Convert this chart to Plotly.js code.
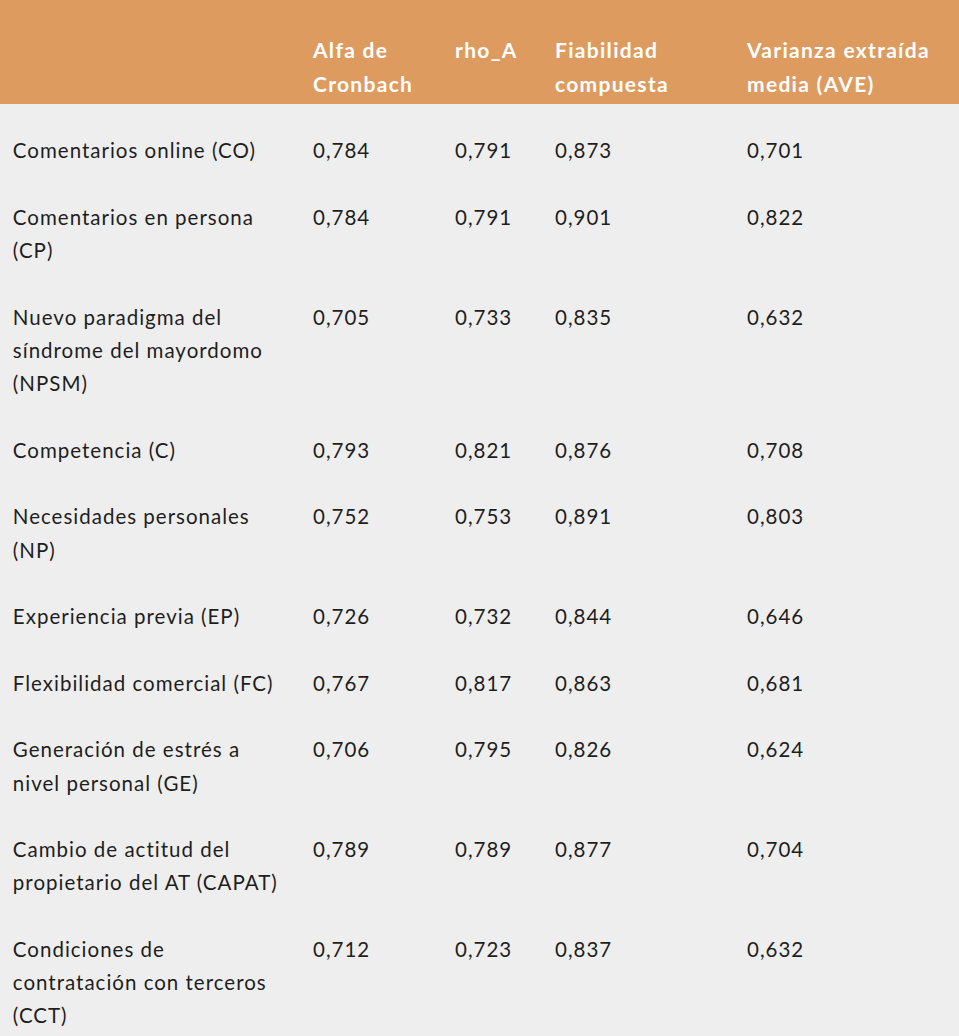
<!DOCTYPE html>
<html>
<head>
<meta charset="utf-8">
<script src="https://cdn.plot.ly/plotly-3.0.1.min.js"></script>
<style>html,body{margin:0;padding:0;background:#eeeeee;}#chart{width:959px;height:1036px;}</style>
</head>
<body>
<div id="chart"></div>
<script>
// ---- data ----
const headers = ["", "Alfa de|Cronbach", "rho_A", "Fiabilidad|compuesta", "Varianza extraída|media (AVE)"];
const categories = [
  "Comentarios online (CO)",
  "Comentarios en persona|(CP)",
  "Nuevo paradigma del|síndrome del mayordomo|(NPSM)",
  "Competencia (C)",
  "Necesidades personales|(NP)",
  "Experiencia previa (EP)",
  "Flexibilidad comercial (FC)",
  "Generación de estrés a|nivel personal (GE)",
  "Cambio de actitud del|propietario del AT (CAPAT)",
  "Condiciones de|contratación con terceros|(CCT)"
];
const alfaCronbach = [0.784, 0.784, 0.705, 0.793, 0.752, 0.726, 0.767, 0.706, 0.789, 0.712];
const rhoA = [0.791, 0.791, 0.733, 0.821, 0.753, 0.732, 0.817, 0.795, 0.789, 0.723];
const fiabilidadCompuesta = [0.873, 0.901, 0.835, 0.876, 0.891, 0.844, 0.863, 0.826, 0.877, 0.837];
const ave = [0.701, 0.822, 0.632, 0.708, 0.803, 0.646, 0.681, 0.624, 0.704, 0.632];

// ---- formatting helpers ----
const BODY_STYLE = 'font-size:20.5px;letter-spacing:1px';
const HEAD_STYLE = 'font-size:21px;letter-spacing:1.3px';
const BODY_LEAD_PX = 13;
const HEAD_LEAD_PX = 16;
function span(t, style) { return '<span style="' + style + '">' + t + '</span>'; }
function lead(px) { return span('\u00a0', 'font-size:' + px + 'px'); }
function cellText(label, leadPx, style, indent) {
  const lines = label.split('|');
  const pre = indent ? span('\u00a0', 'font-size:15px;letter-spacing:1px') : '';
  return lead(leadPx) + '<br>' + lines.map(l => pre + span(l, style)).join('<br>');
}
function fmt(v) { return v.toFixed(3).replace('.', ','); }

const headerVals = headers.map(h => [h ? cellText(h, HEAD_LEAD_PX, HEAD_STYLE, false) : '']);
const cellVals = [
  categories.map(c => cellText(c, BODY_LEAD_PX, BODY_STYLE, true)),
  alfaCronbach.map(v => cellText(fmt(v), BODY_LEAD_PX, BODY_STYLE, false)),
  rhoA.map(v => cellText(fmt(v), BODY_LEAD_PX, BODY_STYLE, false)),
  fiabilidadCompuesta.map(v => cellText(fmt(v), BODY_LEAD_PX, BODY_STYLE, false)),
  ave.map(v => cellText(fmt(v), BODY_LEAD_PX, BODY_STYLE, false))
];

const HEAD_BG = '#dd9b5f';
const BODY_BG = '#eeeeee';

const trace = {
  type: 'table',
  columnwidth: [305, 142, 100, 192, 220],
  domain: {x: [0, 1], y: [0, 1]},
  header: {
    values: headerVals,
    align: 'left',
    height: 103,
    fill: {color: HEAD_BG},
    line: {color: HEAD_BG, width: 1},
    font: {family: 'Lato, sans-serif', size: 26.15, color: '#ffffff', weight: 'bold'}
  },
  cells: {
    values: cellVals,
    align: 'left',
    height: 66.67,
    fill: {color: BODY_BG},
    line: {color: BODY_BG, width: 1},
    font: {family: 'Lato, sans-serif', size: 25.64, color: '#1e1e1e'}
  }
};

const layout = {
  width: 959,
  height: 1036,
  margin: {l: 0, r: 0, t: 0, b: 0, pad: 0},
  paper_bgcolor: BODY_BG,
  plot_bgcolor: BODY_BG,
  showlegend: false
};

Plotly.newPlot('chart', [trace], layout, {displayModeBar: false, staticPlot: true});
</script>
</body>
</html>
